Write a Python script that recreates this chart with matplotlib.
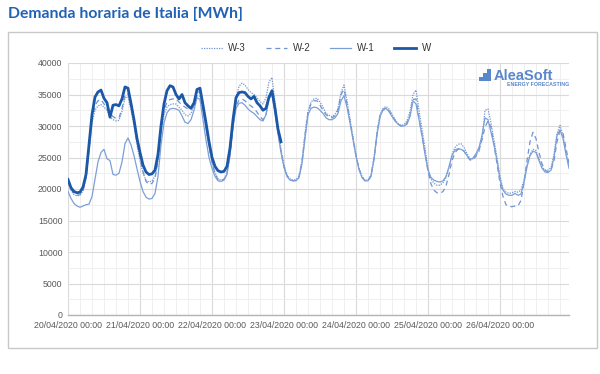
import matplotlib
matplotlib.use('Agg')
import matplotlib.pyplot as plt
from matplotlib.patches import Rectangle
from matplotlib.lines import Line2D
import numpy as np

# Hourly demand (MWh), 20/04/2020 00:00 -> 26/04/2020 23:00
w3 = [
    21000, 19800, 19100, 18900, 19000, 19700, 21600, 26000, 30500, 32500, 33200, 33400, 33000, 32500, 31500, 31000, 30800, 30900, 32300, 34500, 34600, 32500, 30000, 27000,
    24500, 22500, 21400, 21100, 21300, 22000, 24500, 28800, 31800, 33000, 33400, 33500, 33500, 33000, 32500, 31800, 31600, 32000, 33300, 34800, 34700, 32300, 29500, 26800,
    24300, 22600, 21600, 21400, 21600, 22600, 25800, 30500, 34500, 36300, 36800, 36500, 35800, 35300, 35000, 34500, 33900, 33500, 34500, 37000, 37700, 33800, 29500, 26300,
    23800, 22200, 21600, 21400, 21500, 22000, 24500, 28800, 32300, 33800, 34300, 34400, 33800, 33000, 32000, 31700, 31500, 31800, 32800, 35300, 36500, 34000, 31200, 28300,
    25400, 23300, 22000, 21400, 21400, 22200, 25000, 29000, 31800, 32800, 33100, 32700, 31900, 31000, 30400, 30100, 30200, 30800, 32300, 35000, 35700, 32500, 29500, 26500,
    23200, 21600, 20900, 20600, 20600, 21000, 21800, 23500, 25500, 26600, 27100, 27200, 26600, 25600, 24800, 24800, 25500, 26000, 28000, 32500, 32700, 30500, 27800, 25000,
    22000, 20000, 19500, 19300, 19400, 19600, 19500, 19800, 21500, 23800, 25500, 26300, 26100, 24800, 23500, 23000, 23000, 23400, 25500, 28800, 30100, 28500, 25800, 23500,
]
w2 = [
    21300, 20000, 19200, 19000, 19100, 19800, 21800, 26300, 31000, 33300, 34000, 34200, 33500, 33000, 32000, 31500, 31200, 31300, 32800, 35000, 35100, 33000, 30500, 27500,
    25000, 22800, 21200, 20700, 20900, 21700, 24500, 29300, 32500, 33800, 34200, 34300, 34300, 33800, 33300, 33000, 32700, 33000, 34000, 35500, 35300, 32800, 29800, 27000,
    24300, 22400, 21500, 21300, 21500, 22500, 25500, 30000, 33200, 34100, 34300, 34000, 33500, 33200, 32800, 32200, 31500, 31000, 31800, 34500, 35300, 32500, 29000, 26000,
    23600, 22100, 21500, 21300, 21400, 22000, 24300, 28500, 32200, 33500, 34000, 34000, 33300, 32500, 31800, 31400, 31300, 31600, 32500, 35000, 35800, 33500, 30800, 28000,
    25300, 23200, 21900, 21300, 21300, 22100, 24800, 28800, 31600, 32600, 32900, 32400, 31700, 30900, 30300, 30000, 30000, 30500, 31700, 34200, 34300, 31200, 28500, 25800,
    22800, 20800, 19800, 19400, 19300, 19600, 20500, 22300, 24500, 25800, 26300, 26400, 26000, 25200, 24600, 24600, 25200, 26200, 27800, 29800, 30800, 29800, 27000, 24000,
    21000, 18800, 17500, 17200, 17200, 17300, 17300, 18200, 21000, 24500, 27500, 29000, 28000, 25800, 24000, 23000, 22700, 23000, 24500, 27500, 29300, 28800, 26500, 24000,
]
w1 = [
    19600, 18500, 17700, 17300, 17100, 17300, 17500, 17600, 18800, 21500, 24300, 25800, 26300, 24800, 24500, 22300, 22200, 22500, 24300, 27200, 28100, 27000, 25300, 23200,
    21200, 19600, 18700, 18400, 18500, 19300, 22000, 27000, 30500, 32100, 32700, 32800, 32700, 32500, 31600, 30600, 30400, 31000, 32500, 34500, 34200, 31000, 27800, 25000,
    23300, 22000, 21300, 21200, 21400, 22300, 25300, 29800, 32800, 33600, 33700, 33300, 32700, 32300, 32000, 31500, 31000, 30800, 31800, 34300, 35000, 32200, 28800, 25800,
    23400, 22000, 21400, 21300, 21300, 21800, 24000, 28000, 31800, 32800, 33000, 32900, 32500, 32000, 31300, 31000, 31000, 31300, 32000, 34000, 34800, 33000, 30500, 27800,
    25200, 23100, 21800, 21300, 21300, 22000, 24700, 28600, 31500, 32500, 32800, 32300, 31500, 30800, 30300, 30000, 30000, 30300, 31500, 34000, 33500, 31000, 28500, 25500,
    23000, 21800, 21400, 21200, 21100, 21300, 22000, 23500, 25300, 26200, 26400, 26300, 26000, 25300, 24700, 24900, 25600, 26600, 28500, 31300, 31000, 29000, 27000, 24500,
    21500, 19800, 19200, 19000, 19000, 19300, 19000, 19200, 21000, 23500, 25300, 26000, 25800, 24500, 23300, 22700, 22600, 23000, 25000, 28500, 29400, 28000, 25500, 23300,
]
w0 = [
    21500, 20200, 19600, 19400, 19500, 20300, 22300, 27000, 31800, 34600, 35400, 35700, 34400, 33700, 31400, 33300, 33400, 33200, 34300, 36200, 36000, 33600, 31000, 28000,
    25800, 23800, 22700, 22300, 22400, 23000, 25500, 30000, 33500, 35600, 36400, 36200, 35000, 34300, 35000, 33700, 33200, 32800, 33600, 35800, 36000, 33300, 30500, 27500,
    25000, 23600, 22900, 22700, 22800, 23600, 26500, 31000, 34500, 35300, 35400, 35300, 34700, 34300, 34700, 33700, 33200, 32500, 32800, 34600, 35600, 32800, 29500, 27500,
]
day_labels = ['20/04/2020 00:00', '21/04/2020 00:00', '22/04/2020 00:00', '23/04/2020 00:00',
              '24/04/2020 00:00', '25/04/2020 00:00', '26/04/2020 00:00']

hours = np.arange(len(w3))
c_light = '#6f94d0'
c_dark = '#1c58a8'
c_text = '#595959'

fig = plt.figure(figsize=(6, 3.74), dpi=100)
fig.patch.set_facecolor('white')

# outer frame
fig.add_artist(Rectangle((8 / 600, 1 - 348 / 374), 589 / 600, 316 / 374,
                         transform=fig.transFigure, facecolor='none',
                         edgecolor='#c8c8c8', linewidth=1.0))

fig.text(8 / 600, 1 - 14 / 374, 'Demanda horaria de Italia [MWh]', fontsize=11.3,
         fontweight='bold', color='#2262b4', family='Lato', va='center', ha='left')

ax = fig.add_axes([68 / 600, 1 - 315 / 374, 501 / 600, 252 / 374])

ax.plot(hours, w3, color=c_light, lw=0.9, ls=(0, (1, 1)), label='W-3', zorder=3)
ax.plot(hours, w2, color=c_light, lw=0.9, ls=(0, (4, 3)), label='W-2', zorder=3)
ax.plot(hours, w1, color='#7c9fd6', lw=0.9, label='W-1', zorder=3)
ax.plot(np.arange(len(w0)), w0, color=c_dark, lw=2.0, label='W', zorder=4)

ax.set_xlim(0, 167)
ax.set_ylim(0, 40000)
ax.set_xticks(np.arange(0, 168, 24))
ax.set_xticklabels(day_labels)
ax.set_xticks(np.arange(0, 168, 4), minor=True)
ax.set_yticks(np.arange(0, 40001, 5000))
ax.set_yticks(np.arange(0, 40001, 2500), minor=True)
ax.grid(which='major', color='#dadada', lw=0.8)
ax.grid(which='minor', color='#ededed', lw=0.6)
ax.set_axisbelow(True)
ax.tick_params(which='both', length=0)
ax.tick_params(axis='x', pad=4, labelsize=6.3, labelcolor=c_text)
ax.tick_params(axis='y', pad=4, labelsize=6.3, labelcolor=c_text)
for lbl in ax.get_xticklabels() + ax.get_yticklabels():
    lbl.set_family('Liberation Sans')
for s in ['top', 'right', 'left']:
    ax.spines[s].set_visible(False)
ax.spines['bottom'].set_color('#b4b4b4')
ax.spines['bottom'].set_linewidth(1.0)

leg = fig.legend(loc='center', bbox_to_anchor=(316 / 600, 1 - 48 / 374), ncol=4,
                 frameon=False, prop={'family': 'Liberation Sans', 'size': 7},
                 handlelength=2.2, columnspacing=2.0, handletextpad=0.6)
for t in leg.get_texts():
    t.set_color('#333333')

# AleaSoft logo
logo_c = '#5a87cb'
dots_x = [481, 485, 485, 489, 489, 489]
dots_y = [79, 79, 75, 79, 75, 71]
fig.add_artist(Line2D([x / 600 for x in dots_x], [1 - y / 374 for y in dots_y],
                      transform=fig.transFigure, ls='none', marker='s',
                      markersize=2.2, color=logo_c, markeredgewidth=0))
fig.text(494 / 600, 1 - 76 / 374, 'AleaSoft', fontsize=10.5, fontweight='bold',
         color=logo_c, family='Liberation Sans', va='center', ha='left')
fig.text(569 / 600, 1 - 85 / 374, 'ENERGY FORECASTING', fontsize=3.8, fontweight='bold',
         color=logo_c, family='Liberation Sans', va='center', ha='right')

fig.savefig('out.png', dpi=100, facecolor='white')
